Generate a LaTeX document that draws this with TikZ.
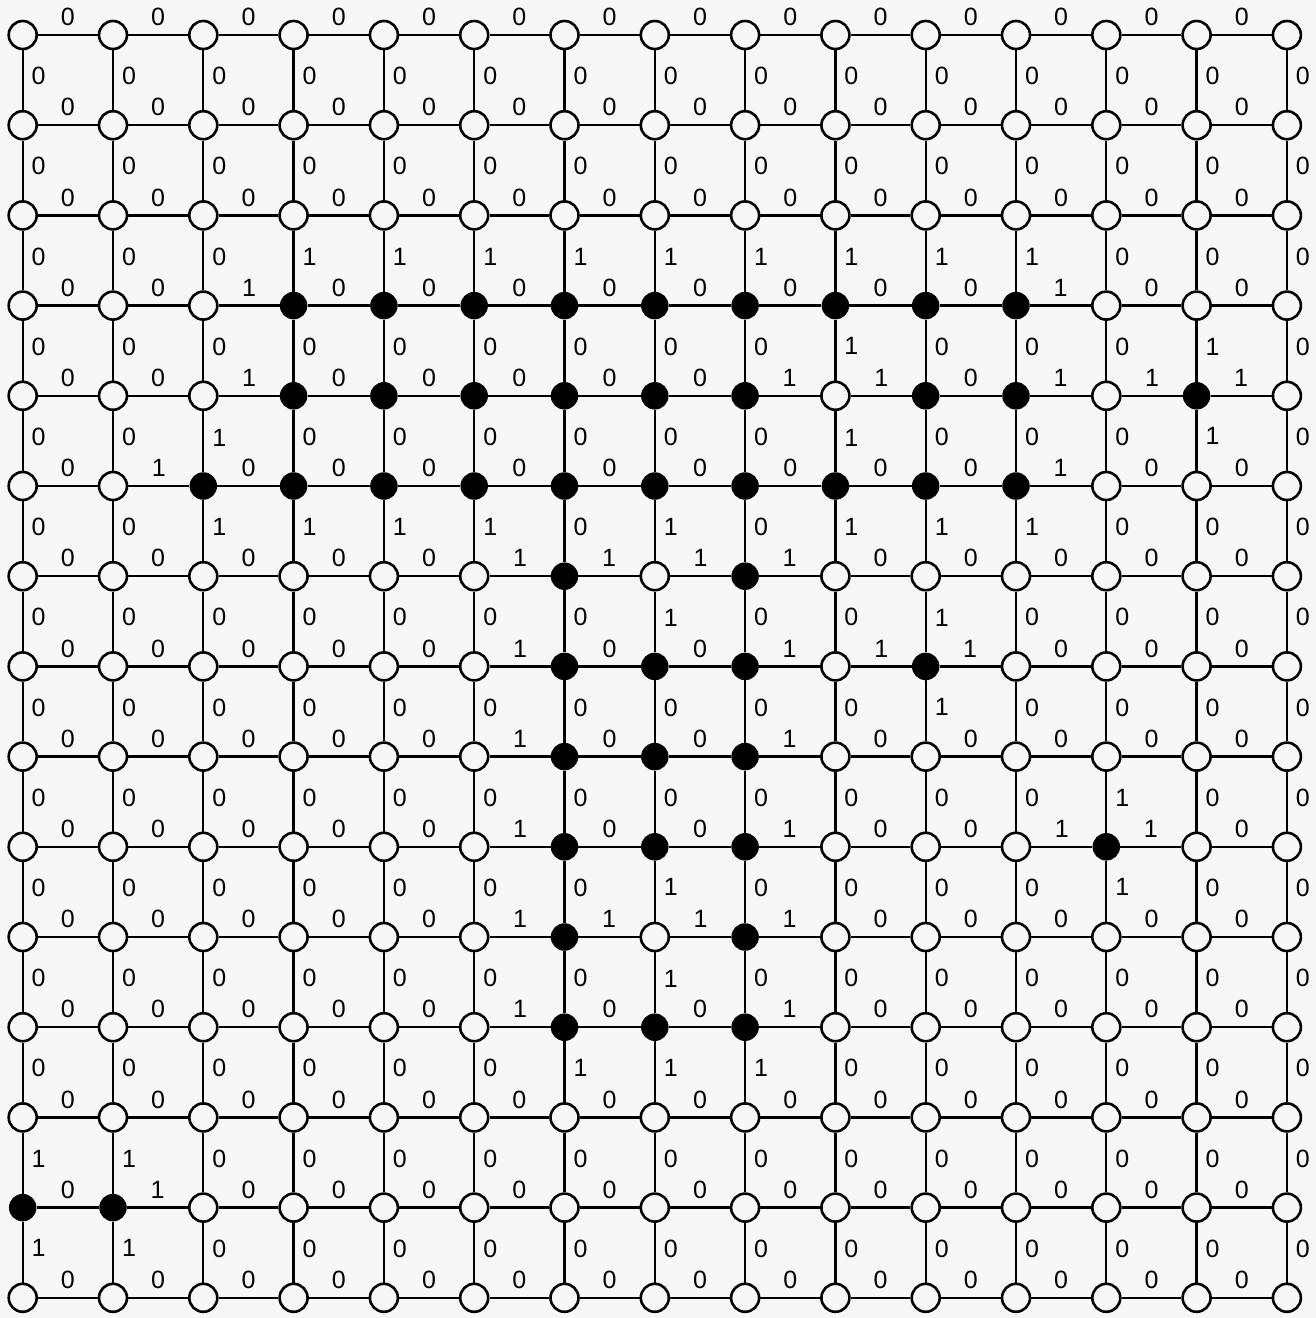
\documentclass[tikz,border=0pt]{standalone}
\usepackage{fontspec}
\setmainfont{Liberation Sans}
\definecolor{bg}{RGB}{247,247,247}
\begin{document}
\begin{tikzpicture}[x=1pt,y=-1pt,
  wnode/.style={circle,draw=black,line width=2.6pt,fill=bg,minimum size=28pt,inner sep=0pt},
  bnode/.style={circle,fill=black,minimum size=27.5pt,inner sep=0pt},
  edge/.style={line width=2.3pt},
  lab/.style={font=\fontsize{25}{27}\selectfont,inner sep=0pt}]
\fill[bg] (0,0) rectangle (1316,1318);
\useasboundingbox (0,0) rectangle (1316,1318);
\def\G{{0,0,0,0,0,0,0,0,0,0,0,0,0,0,0,
0,0,0,0,0,0,0,0,0,0,0,0,0,0,0,
0,0,0,0,0,0,0,0,0,0,0,0,0,0,0,
0,0,0,1,1,1,1,1,1,1,1,1,0,0,0,
0,0,0,1,1,1,1,1,1,0,1,1,0,1,0,
0,0,1,1,1,1,1,1,1,1,1,1,0,0,0,
0,0,0,0,0,0,1,0,1,0,0,0,0,0,0,
0,0,0,0,0,0,1,1,1,0,1,0,0,0,0,
0,0,0,0,0,0,1,1,1,0,0,0,0,0,0,
0,0,0,0,0,0,1,1,1,0,0,0,1,0,0,
0,0,0,0,0,0,1,0,1,0,0,0,0,0,0,
0,0,0,0,0,0,1,1,1,0,0,0,0,0,0,
0,0,0,0,0,0,0,0,0,0,0,0,0,0,0,
1,1,0,0,0,0,0,0,0,0,0,0,0,0,0,
0,0,0,0,0,0,0,0,0,0,0,0,0,0,0}}
% nodes
\foreach \r in {0,...,14}{
  \foreach \c in {0,...,14}{
    \pgfmathtruncatemacro\a{\G[\r*15+\c]}
    \ifnum\a=1
      \node[bnode] (n-\r-\c) at ({22.7+90.3*\c},{35+90.2*\r}) {};
    \else
      \node[wnode] (n-\r-\c) at ({22.7+90.3*\c},{35+90.2*\r}) {};
    \fi
  }
}
% horizontal connectors
\foreach \r in {0,...,14}{
  \foreach \c in {0,...,13}{
    \pgfmathtruncatemacro\cc{\c+1}
    \pgfmathtruncatemacro\a{\G[\r*15+\c]}
    \pgfmathtruncatemacro\b{\G[\r*15+\c+1]}
    \pgfmathtruncatemacro\v{abs(\a-\b)}
    \draw[edge] (n-\r-\c) -- node[lab,yshift=18pt]{\v} (n-\r-\cc);
  }
}
% vertical connectors
\foreach \r in {0,...,13}{
  \foreach \c in {0,...,14}{
    \pgfmathtruncatemacro\rr{\r+1}
    \pgfmathtruncatemacro\a{\G[\r*15+\c]}
    \pgfmathtruncatemacro\b{\G[(\r+1)*15+\c]}
    \pgfmathtruncatemacro\v{abs(\a-\b)}
    \draw[edge] (n-\r-\c) -- node[lab,xshift=16pt,yshift=4pt]{\v} (n-\rr-\c);
  }
}
\end{tikzpicture}
\end{document}
